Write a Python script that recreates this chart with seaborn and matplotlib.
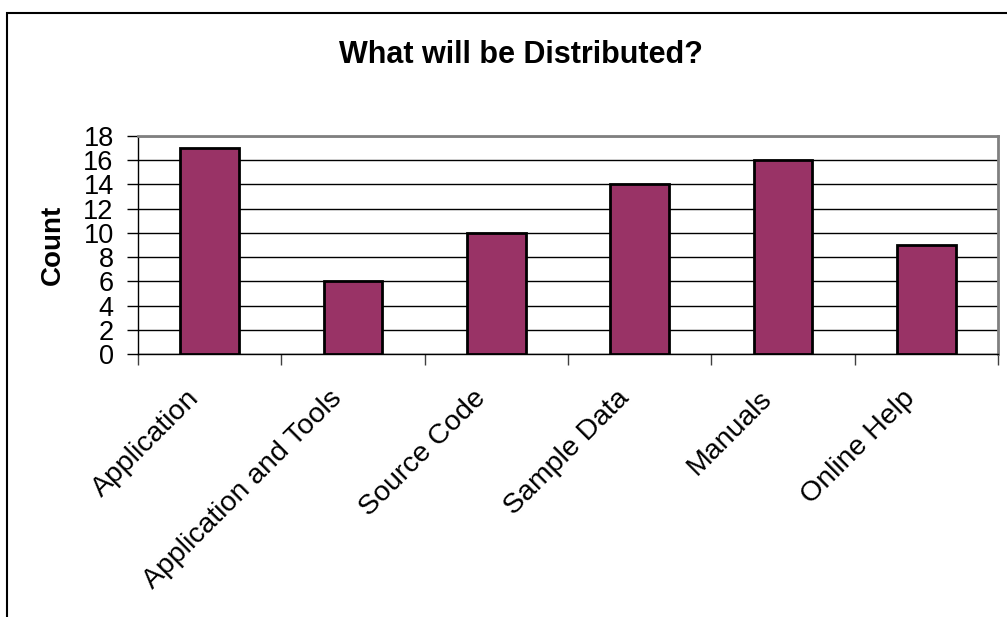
import matplotlib
matplotlib.use("Agg")
import matplotlib.pyplot as plt
import matplotlib.patches as mpatches
import matplotlib.transforms as mtransforms
import seaborn as sns
import pandas as pd

categories = ["Application", "Application and Tools", "Source Code",
              "Sample Data", "Manuals", "Online Help"]
counts = [17, 6, 10, 14, 16, 9]
y_ticks = [0, 2, 4, 6, 8, 10, 12, 14, 16, 18]

sns.set_theme(style="white")
plt.rcParams["font.family"] = ["Liberation Sans", "DejaVu Sans"]
plt.rcParams["text.color"] = "black"
plt.rcParams["axes.labelcolor"] = "black"
plt.rcParams["xtick.color"] = "black"
plt.rcParams["ytick.color"] = "black"

df = pd.DataFrame({"category": categories, "count": counts})

fig = plt.figure(figsize=(10.07, 6.17), dpi=100)
W, H = 1007, 617
ax = fig.add_axes([138 / W, 1 - 354 / H, 860 / W, 218 / H])

sns.barplot(data=df, x="category", y="count", color="#993366",
            saturation=1, width=0.41, edgecolor="black", linewidth=2,
            ax=ax, zorder=3)

ax.set_xlim(-0.5, len(categories) - 0.5)
ax.set_ylim(0, 18)
ax.set_yticks(y_ticks)
ax.set_yticklabels([str(v) for v in y_ticks], fontsize=19.5)
ax.yaxis.grid(True, color="black", linewidth=1, zorder=0)
ax.set_axisbelow(True)

# category labels under each bar, rotated 45 degrees
ax.set_xticks(list(range(len(categories))))
ax.set_xticklabels(categories, rotation=45, ha="right",
                   rotation_mode="anchor", fontsize=20.5)
ax.tick_params(axis="x", length=0, pad=22.5)
shift = mtransforms.ScaledTranslation(-24 / 100, 0, fig.dpi_scale_trans)
for lbl in ax.get_xticklabels():
    lbl.set_transform(lbl.get_transform() + shift)

# tick marks on the boundaries between categories
ax.set_xticks([i - 0.5 for i in range(len(categories) + 1)], minor=True)
ax.tick_params(axis="x", which="minor", length=8, width=1, color="#404040",
               direction="out", bottom=True)
ax.tick_params(axis="y", length=8, width=1, color="black", direction="out",
               left=True, pad=9.5)

ax.set_xlabel("")
ax.set_ylabel("")
fig.text(53 / W, 1 - 245 / H, "Count", rotation=90, ha="center",
         va="center", fontsize=20, fontweight="bold")

for side in ["left", "bottom"]:
    ax.spines[side].set_color("black")
    ax.spines[side].set_linewidth(1)
for side in ["top", "right"]:
    ax.spines[side].set_color("#808080")
    ax.spines[side].set_linewidth(2)

fig.text(521 / W, 1 - 63 / H, "What will be Distributed?",
         ha="center", va="baseline", fontsize=22, fontweight="bold")

# outer chart frame
fig.patches.append(mpatches.Rectangle((6.5 / W, -0.1), 1.2, (H - 12.5) / H + 0.1,
                                      transform=fig.transFigure, fill=False,
                                      edgecolor="black", linewidth=1.5, zorder=0))

fig.savefig("out.png", dpi=100)
